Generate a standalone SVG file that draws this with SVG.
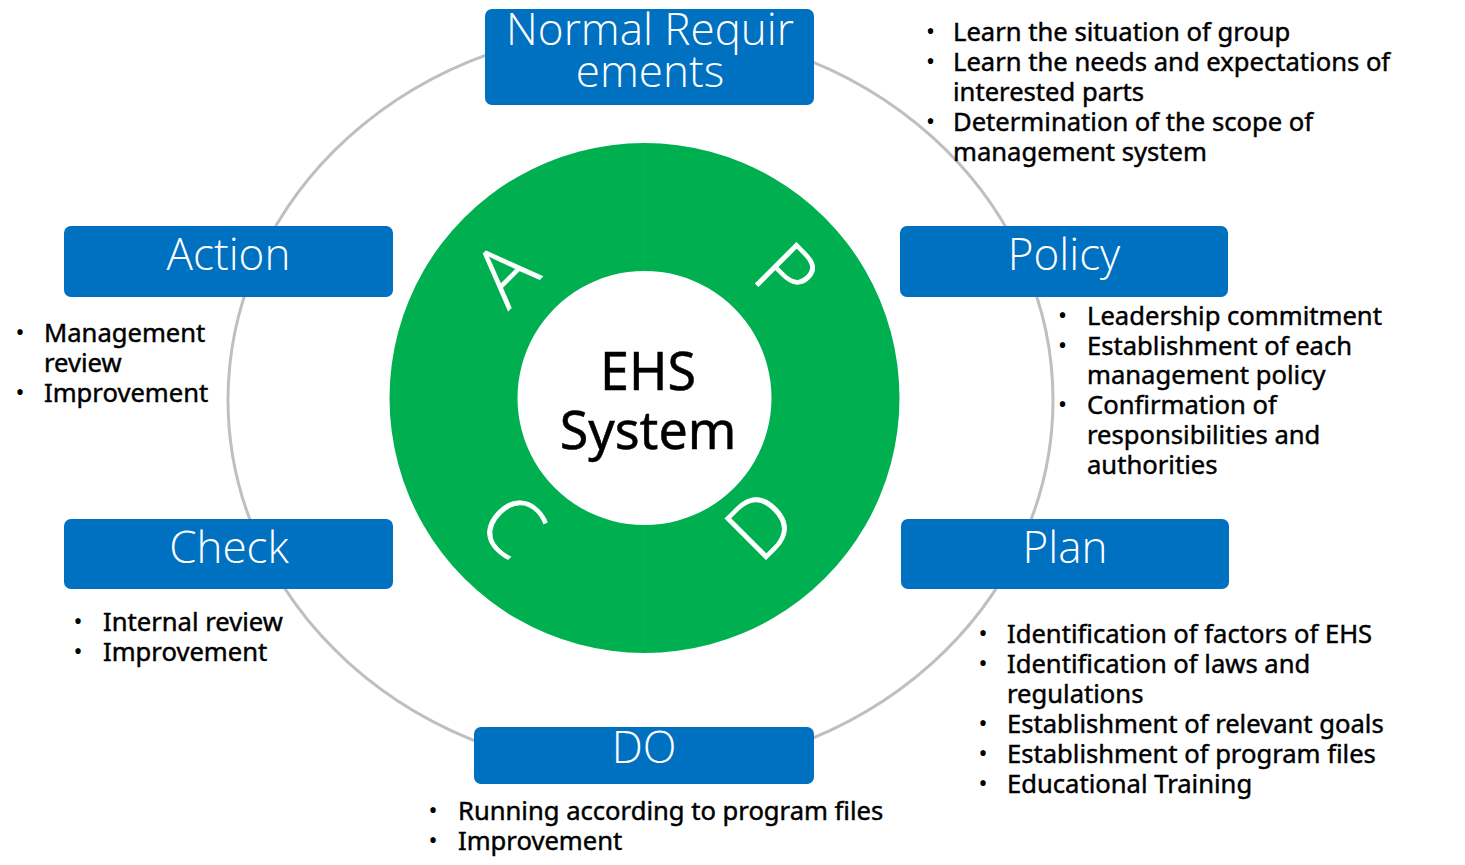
<svg xmlns="http://www.w3.org/2000/svg" width="1465" height="865" viewBox="0 0 1465 865">
<style>
.ring{fill:none;stroke:#BFBFBF;stroke-width:3}
.box{fill:#0070C0}
.title{font-family:"Open Sans","Noto Sans",sans-serif;font-weight:300;fill:#fff;text-anchor:middle;font-size:44px}
.body{font-family:"Noto Sans","Open Sans",sans-serif;font-size:25.6px;fill:#000;stroke:#000;stroke-width:0.45}
.bul{font-family:"Noto Sans",sans-serif;font-size:24px;fill:#000;text-anchor:middle}
.pdca{font-family:"Open Sans","Noto Sans",sans-serif;font-weight:300;font-size:81px;fill:#fff;stroke:#fff;stroke-width:0.8;text-anchor:middle}
.core{font-family:"Noto Sans","Open Sans",sans-serif;font-size:52px;fill:#000;stroke:#000;stroke-width:0.5;text-anchor:middle}
.seam{stroke:#3fc074;stroke-width:1;opacity:.15}
</style>
<rect width="1465" height="865" fill="#fff"/>
<g id="connectors">
<ellipse class="ring" cx="640.5" cy="400" rx="412.5" ry="372"/>
</g>
<g id="core">
<path d="M644.5 143a255 255 0 1 0 0.01 0ZM644.5 271a127 127 0 1 1 -0.01 0Z" fill="#00B050" fill-rule="evenodd"/>
<line class="seam" x1="644" y1="145" x2="644" y2="271"/>
<line class="seam" x1="644" y1="525" x2="644" y2="651"/>
<text class="core" x="648" y="390">EHS</text>
<text class="core" x="648" y="449">System</text>
<text class="pdca" transform="translate(505 273) rotate(-45)" y="29">A</text>
<text class="pdca" transform="translate(787 274) rotate(45)" y="29">P</text>
<text class="pdca" transform="translate(512.5 525) rotate(45)" y="29">C</text>
<text class="pdca" transform="translate(760 524.5) rotate(-45)" y="29">D</text>
</g>
<g id="normal-requirements">
<rect class="box" x="485" y="9" width="329" height="96" rx="7"/>
<text class="title" x="650" y="45" font-size="43">Normal Requir</text>
<text class="title" x="650" y="87" font-size="43">ements</text>
<text class="bul" x="930.5" y="40">•</text>
<text class="bul" x="930.5" y="70">•</text>
<text class="bul" x="930.5" y="130">•</text>
<text class="body" x="953" y="41">Learn the situation of group</text>
<text class="body" x="953" y="71">Learn the needs and expectations of</text>
<text class="body" x="953" y="101">interested parts</text>
<text class="body" x="953" y="131">Determination of the scope of</text>
<text class="body" x="953" y="161">management system</text>
</g>
<g id="policy">
<rect class="box" x="900" y="226" width="328" height="71" rx="7"/>
<text class="title" x="1064" y="270">Policy</text>
<text class="bul" x="1062.5" y="324">•</text>
<text class="bul" x="1062.5" y="354">•</text>
<text class="bul" x="1062.5" y="413">•</text>
<text class="body" x="1087" y="325">Leadership commitment</text>
<text class="body" x="1087" y="355">Establishment of each</text>
<text class="body" x="1087" y="384">management policy</text>
<text class="body" x="1087" y="414">Confirmation of</text>
<text class="body" x="1087" y="444">responsibilities and</text>
<text class="body" x="1087" y="474">authorities</text>
</g>
<g id="plan">
<rect class="box" x="901" y="519" width="328" height="70" rx="7"/>
<text class="title" x="1065" y="563">Plan</text>
<text class="bul" x="983" y="642">•</text>
<text class="bul" x="983" y="672">•</text>
<text class="bul" x="983" y="732">•</text>
<text class="bul" x="983" y="762">•</text>
<text class="bul" x="983" y="792">•</text>
<text class="body" x="1007" y="643">Identification of factors of EHS</text>
<text class="body" x="1007" y="673">Identification of laws and</text>
<text class="body" x="1007" y="703">regulations</text>
<text class="body" x="1007" y="733">Establishment of relevant goals</text>
<text class="body" x="1007" y="763">Establishment of program files</text>
<text class="body" x="1007" y="793">Educational Training</text>
</g>
<g id="do">
<rect class="box" x="474" y="727" width="340" height="57" rx="7"/>
<text class="title" x="644" y="763">DO</text>
<text class="bul" x="433" y="819">•</text>
<text class="bul" x="433" y="849">•</text>
<text class="body" x="458" y="820">Running according to program files</text>
<text class="body" x="458" y="850">Improvement</text>
</g>
<g id="check">
<rect class="box" x="64" y="519" width="329" height="70" rx="7"/>
<text class="title" x="229" y="563">Check</text>
<text class="bul" x="78" y="630">•</text>
<text class="bul" x="78" y="660">•</text>
<text class="body" x="103" y="631">Internal review</text>
<text class="body" x="103" y="661">Improvement</text>
</g>
<g id="action">
<rect class="box" x="64" y="226" width="329" height="71" rx="7"/>
<text class="title" x="228.5" y="270">Action</text>
<text class="bul" x="20" y="341">•</text>
<text class="bul" x="20" y="401">•</text>
<text class="body" x="44" y="342">Management</text>
<text class="body" x="44" y="372">review</text>
<text class="body" x="44" y="402">Improvement</text>
</g>
</svg>
